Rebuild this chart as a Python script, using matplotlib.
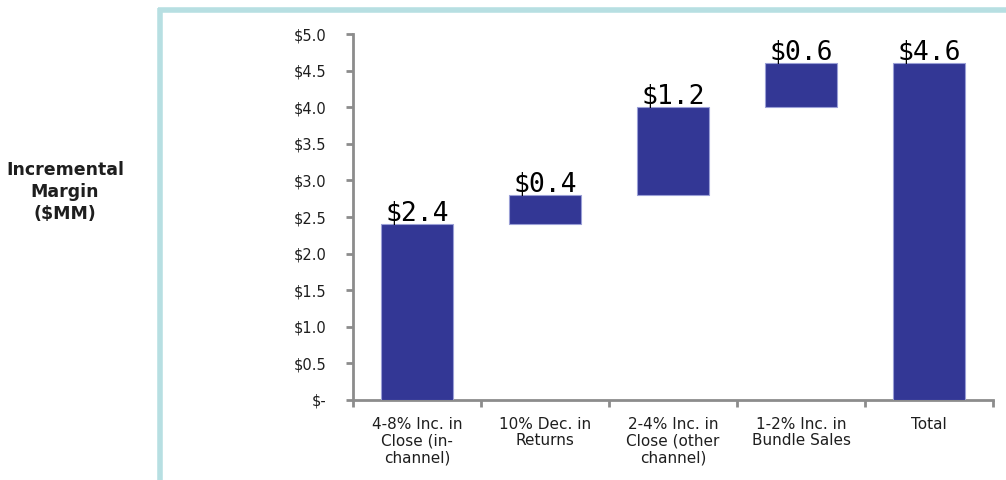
import matplotlib
matplotlib.use("Agg")
import matplotlib.pyplot as plt
from matplotlib.lines import Line2D

# Waterfall components of incremental margin ($MM)
categories = ["4-8% Inc. in\nClose (in-\nchannel)", "10% Dec. in\nReturns",
              "2-4% Inc. in\nClose (other\nchannel)", "1-2% Inc. in\nBundle Sales", "Total"]
increments = [2.4, 0.4, 1.2, 0.6]
total = 4.6
y_ticks = [0.0, 0.5, 1.0, 1.5, 2.0, 2.5, 3.0, 3.5, 4.0, 4.5, 5.0]
y_tick_labels = ["$-", "$0.5", "$1.0", "$1.5", "$2.0", "$2.5", "$3.0",
                 "$3.5", "$4.0", "$4.5", "$5.0"]

bar_color = "#333795"
spine_color = "#8c8c8c"
text_color = "#1e1e1e"

fig = plt.figure(figsize=(10.06, 4.8), dpi=100)
fig.patch.set_facecolor("white")

# Light teal frame around the chart area
frame_kw = dict(color="#b7dfe2", linewidth=4, solid_capstyle="butt",
                transform=fig.transFigure)
fig.add_artist(Line2D([160 / 1006, 160 / 1006], [0, 1 - 8 / 480], **frame_kw))
fig.add_artist(Line2D([158 / 1006, 1], [1 - 10 / 480, 1 - 10 / 480], **frame_kw))

ax = fig.add_axes([353 / 1006, 1 - 400 / 480, (993 - 353) / 1006, (400 - 34) / 480])

# Floating bars: each starts where the previous one ended
bottoms = []
running = 0.0
for v in increments:
    bottoms.append(running)
    running += v
heights = increments + [total]
bottoms = bottoms + [0.0]
labels = [f"${v:.1f}" for v in heights]

x = list(range(len(categories)))
ax.bar(x, heights, bottom=bottoms, width=0.57, color=bar_color,
       edgecolor="#9a9fd6", linewidth=0.8, zorder=3)

for xi, b, h, lab in zip(x, bottoms, heights, labels):
    ax.text(xi, b + h - 0.04, lab, ha="center", va="bottom",
            fontsize=19, family="DejaVu Sans Mono", color="black", zorder=4)

ax.set_xlim(-0.5, len(categories) - 0.5)
ax.set_ylim(0, 5.0)

ax.set_yticks(y_ticks)
ax.set_yticklabels(y_tick_labels, fontsize=10.5, color=text_color)
ax.set_xticks(x)
ax.set_xticklabels(categories, fontsize=11, color=text_color, linespacing=1.15)
ax.tick_params(axis="x", length=0, pad=12)
ax.set_xticks([i - 0.5 for i in range(len(categories) + 1)], minor=True)
ax.tick_params(axis="x", which="minor", length=5, width=2, color=spine_color)
ax.tick_params(axis="y", length=5, width=2, color=spine_color, pad=14)

for side in ["top", "right"]:
    ax.spines[side].set_visible(False)
for side in ["left", "bottom"]:
    ax.spines[side].set_color(spine_color)
    ax.spines[side].set_linewidth(2)

fig.text(65 / 1006, 1 - 192 / 480, "Incremental\nMargin\n($MM)", ha="center",
         va="center", fontsize=12.5, fontweight="bold", color=text_color,
         linespacing=1.3)

fig.savefig("out.png", dpi=100, facecolor="white")
